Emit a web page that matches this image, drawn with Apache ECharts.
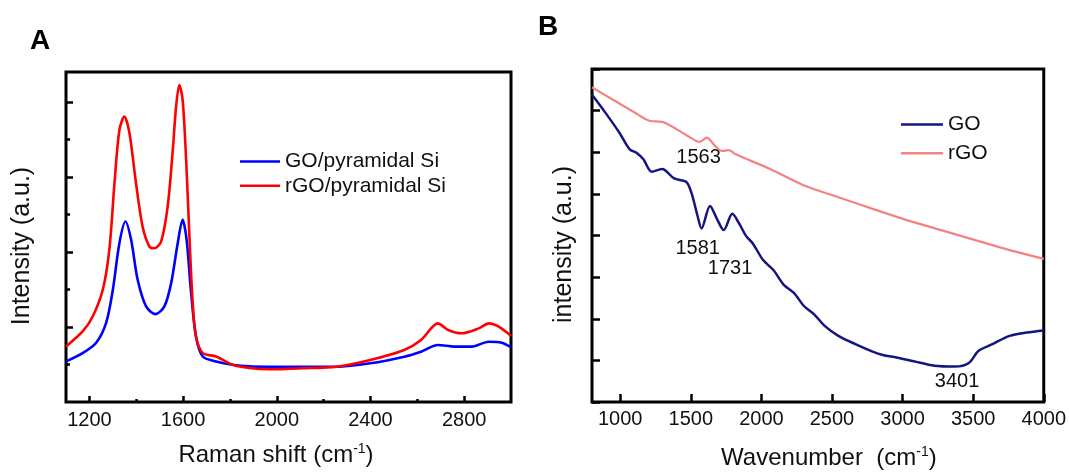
<!DOCTYPE html>
<html>
<head>
<meta charset="utf-8">
<script src="https://cdn.jsdelivr.net/npm/echarts@6/dist/echarts.min.js"></script>
<style>
html,body{margin:0;padding:0;background:#fff;}
#chart{width:1069px;height:475px;}
</style>
</head>
<body>
<div id="chart"></div>
<script>
// ---- Panel A: Raman spectra ----
const ramanTicks = [1200, 1600, 2000, 2400, 2800];
const ramanMinorTicks = [1400, 1800, 2200, 2600];
const aX_GO = [1100,1171,1228,1271,1300,1328,1354,1378,1406,1442,1482,1520,1549,1577,1598,1615,1633,1655,1684,1741,1811,1883,1966,2110,2255,2399,2544,2616,2688,2760,2832,2905,2960,3000];
const aY_GO = [541,652,786,1052,1496,2118,2406,2162,1629,1274,1172,1274,1585,2118,2429,2162,1496,874,607,541,497,475,471,471,471,516,604,671,760,738,738,804,790,730];
const aX_rGO = [1100,1171,1214,1257,1285,1307,1328,1349,1371,1399,1427,1456,1477,1506,1534,1556,1570,1584,1598,1613,1627,1641,1655,1684,1741,1811,1883,1966,2110,2255,2399,2544,2616,2688,2732,2789,2862,2905,2948,3000];
const aY_rGO = [741,941,1140,1496,2029,2917,3627,3805,3583,2917,2339,2073,2051,2139,2606,3361,3938,4227,4027,3227,2206,1319,874,652,607,497,453,436,449,471,560,693,827,1049,960,916,982,1049,1004,880];
const aYMajor = [1000, 2000, 3000, 4000];
const aYMinor = [500, 1500, 2500, 3500];

// ---- Panel B: FTIR spectra ----
const wnTicks = [1000, 1500, 2000, 2500, 3000, 3500, 4000];
const bX_GO = [800,897,994,1067,1115,1164,1224,1297,1382,1467,1503,1547,1576,1636,1685,1733,1794,1842,1891,1939,2012,2085,2157,2230,2303,2375,2448,2545,2666,2788,2860,2957,3079,3224,3370,3467,3539,3636,3758,3879,4000];
const bY_GO = [7.38,6.94,6.47,6.07,5.99,5.83,5.53,5.60,5.37,5.29,5.04,4.48,4.17,4.71,4.40,4.13,4.52,4.29,3.99,3.81,3.41,3.17,2.82,2.62,2.30,2.10,1.83,1.59,1.39,1.21,1.13,1.07,0.98,0.87,0.85,0.93,1.23,1.39,1.59,1.67,1.72];
const bX_rGO = [800,970,1091,1212,1297,1382,1479,1564,1612,1673,1721,1770,1818,2061,2303,2545,2788,3030,3273,3515,3758,4000];
const bY_rGO = [7.56,7.22,6.98,6.75,6.73,6.59,6.39,6.25,6.35,6.15,6.03,6.05,5.95,5.60,5.20,4.92,4.64,4.37,4.13,3.89,3.65,3.44];
const annoText = ['1563', '1581', '1731', '3401'];
const annoX = [1555, 1549, 1778, 3386];
const annoY = [5.87, 3.70, 3.21, 0.50];

const FONT = "'Liberation Sans', Arial, sans-serif";
const TXT = '#111';
const pairs = (xs, ys) => xs.map((x, i) => [x, ys[i]]);
const plain = v => String(v);

const chart = echarts.init(document.getElementById('chart'), null, {renderer: 'canvas'});

const tickStyle = (len, w) => ({show: true, inside: true, length: len, lineStyle: {color: '#000', width: w}});

const option = {
  animation: false,
  backgroundColor: '#fff',
  textStyle: {fontFamily: FONT},
  graphic: [
    {type: 'text', left: 30, top: 27, style: {text: 'A', font: "bold 28px 'Liberation Sans', Arial, sans-serif", fill: '#000'}},
    {type: 'text', left: 538, top: 13, style: {text: 'B', font: "bold 28px 'Liberation Sans', Arial, sans-serif", fill: '#000'}}
  ],
  grid: [
    {left: 66, top: 72, width: 445, height: 330, show: true, borderColor: '#000', borderWidth: 3, backgroundColor: 'transparent'},
    {left: 592, top: 69, width: 454, height: 335.5, show: true, borderColor: '#000', borderWidth: 3, backgroundColor: 'transparent'}
  ],
  legend: [
    {data: ['GO/pyramidal Si', 'rGO/pyramidal Si'], orient: 'vertical', left: 240, top: 151, padding: 0,
     icon: 'rect', itemWidth: 40, itemHeight: 2.5, itemGap: 3.3,
     textStyle: {fontSize: 21, lineHeight: 20, color: TXT, fontFamily: FONT}},
    {data: ['GO', 'rGO'], orient: 'vertical', left: 901, top: 114, padding: 0,
     icon: 'rect', itemWidth: 42, itemHeight: 2.5, itemGap: 7.7,
     textStyle: {fontSize: 21, lineHeight: 20, color: TXT, fontFamily: FONT}}
  ],
  xAxis: [
    {gridIndex: 0, type: 'value', min: 1100, max: 3000, position: 'bottom',
     axisLine: {show: false}, splitLine: {show: false},
     axisTick: Object.assign(tickStyle(6, 2.5), {customValues: ramanTicks}),
     axisLabel: {show: true, customValues: ramanTicks, formatter: plain, margin: 8, fontSize: 20, color: TXT, fontFamily: FONT},
     name: 'Raman shift (cm{sup|-1})', nameLocation: 'middle', nameGap: 40,
     nameTextStyle: {fontSize: 24, color: TXT, fontFamily: FONT, padding: [0, 25, 0, 0],
       rich: {sup: {fontSize: 14, color: TXT, fontFamily: FONT, padding: [0, 0, 12, 0]}}}},
    {gridIndex: 0, type: 'value', min: 1100, max: 3000, position: 'bottom',
     axisLine: {show: false}, splitLine: {show: false},
     axisTick: Object.assign(tickStyle(3, 2.5), {customValues: ramanMinorTicks}),
     axisLabel: {show: false, customValues: ramanMinorTicks}},
    {gridIndex: 1, type: 'value', min: 800, max: 4000, position: 'bottom',
     axisLine: {show: false}, splitLine: {show: false},
     axisTick: Object.assign(tickStyle(8, 2.5), {customValues: wnTicks}),
     axisLabel: {show: true, customValues: wnTicks, formatter: plain, margin: 7, fontSize: 20, color: TXT, fontFamily: FONT},
     name: 'Wavenumber  (cm{sup|-1})', nameLocation: 'middle', nameGap: 43,
     nameTextStyle: {fontSize: 24, color: TXT, fontFamily: FONT, padding: [0, 0, 0, 22],
       rich: {sup: {fontSize: 14, color: TXT, fontFamily: FONT, padding: [0, 0, 12, 0]}}}}
  ],
  yAxis: [
    {gridIndex: 0, type: 'value', min: 0, max: 4400, position: 'left',
     axisLine: {show: false}, splitLine: {show: false},
     axisTick: Object.assign(tickStyle(7, 2.5), {customValues: aYMajor}),
     axisLabel: {show: false, customValues: aYMajor},
     name: 'Intensity (a.u.)', nameLocation: 'middle', nameGap: 31,
     nameTextStyle: {fontSize: 25, color: TXT, fontFamily: FONT, padding: [0, 18, 0, 0]}},
    {gridIndex: 0, type: 'value', min: 0, max: 4400, position: 'left',
     axisLine: {show: false}, splitLine: {show: false},
     axisTick: Object.assign(tickStyle(4, 2.5), {customValues: aYMinor}),
     axisLabel: {show: false, customValues: aYMinor}},
    {gridIndex: 1, type: 'value', min: 0, max: 8, interval: 1, position: 'left',
     axisLine: {show: false}, splitLine: {show: false},
     axisTick: tickStyle(8, 2.5),
     axisLabel: {show: false},
     name: 'intensity (a.u.)', nameLocation: 'middle', nameGap: 15,
     nameTextStyle: {fontSize: 25, color: TXT, fontFamily: FONT, padding: [0, 18, 0, 0]}}
  ],
  series: [
    {name: 'GO/pyramidal Si', type: 'line', xAxisIndex: 0, yAxisIndex: 0, data: pairs(aX_GO, aY_GO),
     showSymbol: false, smooth: 0.3, color: '#0000ff', lineStyle: {width: 2.6, color: '#0000ff'}},
    {name: 'rGO/pyramidal Si', type: 'line', xAxisIndex: 0, yAxisIndex: 0, data: pairs(aX_rGO, aY_rGO),
     showSymbol: false, smooth: 0.3, color: '#ff0000', lineStyle: {width: 2.6, color: '#ff0000'}},
    {name: 'GO', type: 'line', xAxisIndex: 2, yAxisIndex: 2, data: pairs(bX_GO, bY_GO),
     showSymbol: false, smooth: 0.3, color: '#15157f', lineStyle: {width: 2.5, color: '#15157f'}},
    {name: 'rGO', type: 'line', xAxisIndex: 2, yAxisIndex: 2, data: pairs(bX_rGO, bY_rGO),
     showSymbol: false, smooth: 0.3, color: '#f38282', lineStyle: {width: 2.2, color: '#f38282'}},
    {name: 'annotations', type: 'scatter', xAxisIndex: 2, yAxisIndex: 2,
     data: annoX.map((x, i) => ({value: [x, annoY[i]], name: annoText[i]})),
     symbol: 'circle', symbolSize: 2, itemStyle: {color: 'rgba(255,255,255,0)'},
     label: {show: true, position: 'inside', formatter: '{b}', fontSize: 20, color: '#111',
             textBorderWidth: 0, opacity: 1, fontFamily: FONT}}
  ]
};
chart.setOption(option);
</script>
</body>
</html>
